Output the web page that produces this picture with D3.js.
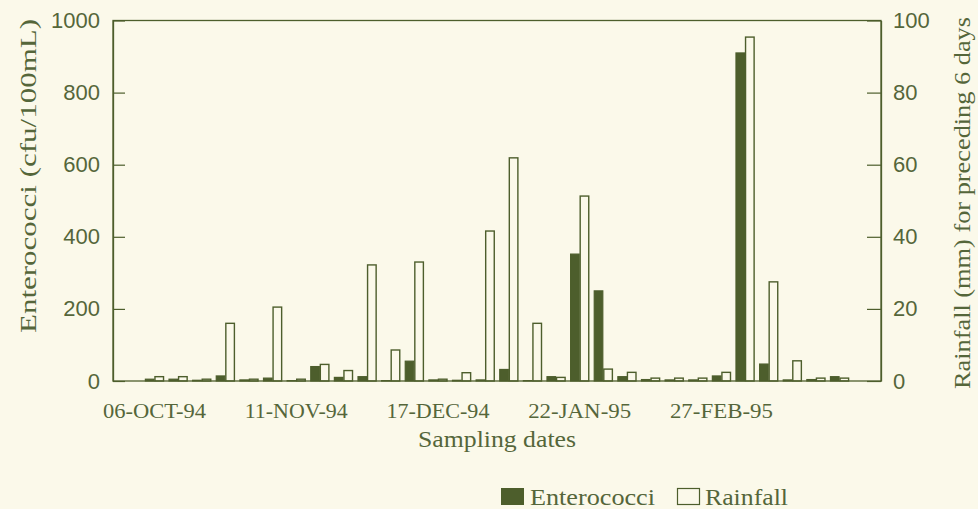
<!DOCTYPE html>
<html>
<head>
<meta charset="utf-8">
<title>Enterococci and rainfall</title>
<script src="https://d3js.org/d3.v7.min.js"></script>
<style>
  body { margin: 0; background: #fbf9ea; }
  svg { display: block; }
  .num { font-family: "Liberation Sans", Arial, sans-serif; font-size: 22px; fill: #55663a; }
  .ser { font-family: "Liberation Serif", "Times New Roman", serif; fill: #55663a; }
</style>
</head>
<body>
<svg id="chart" width="978" height="509"></svg>
<script>
// sampling dates, every 6 days
var dates = ["06-OCT-94","12-OCT-94","18-OCT-94","24-OCT-94","30-OCT-94","05-NOV-94",
  "11-NOV-94","17-NOV-94","23-NOV-94","29-NOV-94","05-DEC-94","11-DEC-94",
  "17-DEC-94","23-DEC-94","29-DEC-94","04-JAN-95","10-JAN-95","16-JAN-95",
  "22-JAN-95","28-JAN-95","03-FEB-95","09-FEB-95","15-FEB-95","21-FEB-95",
  "27-FEB-95","05-MAR-95","11-MAR-95","17-MAR-95","23-MAR-95","29-MAR-95"];
// cfu/100mL
var entero = [5,5,2,14,3,8, 1,40,10,12,1,55, 3,2,3,32,1,12,
  352,250,12,4,3,3, 14,910,47,3,4,12];
// mm for preceding 6 days
var rain = [1.2,1.2,0.5,16,0.5,20.5, 0.5,4.6,2.9,32.2,8.6,33, 0.5,2.3,41.6,61.9,16,1,
  51.3,3.3,2.4,0.8,0.8,0.8, 2.4,95.4,27.5,5.6,0.8,0.8];
var leftTicks = [0,200,400,600,800,1000];
var rightTicks = [0,20,40,60,80,100];
var labelDates = ["06-OCT-94","11-NOV-94","17-DEC-94","22-JAN-95","27-FEB-95"];

var ink = "#4d5e2c", bg = "#fbf9ea";
var svg = d3.select("#chart");
var pl = 113, pr = 881, pt = 20.5, pb = 381;

var x0 = d3.scaleBand().domain(dates).range([pl, pr])
    .paddingInner(0.19).paddingOuter(1.35);
var x1 = d3.scaleBand().domain(["e","r"]).range([0, x0.bandwidth()]);
var yL = d3.scaleLinear().domain([0, 1000]).range([pb, pt]);
var yR = d3.scaleLinear().domain([0, 100]).range([pb, pt]);

var rows = dates.map(function(d, i) { return {date: d, e: entero[i], r: rain[i]}; });

var g = svg.selectAll("g.grp").data(rows).enter().append("g")
    .attr("class", "grp")
    .attr("transform", function(d) { return "translate(" + x0(d.date) + ",0)"; });

g.append("rect")
    .attr("x", x1("e") + 0.5).attr("width", x1.bandwidth() - 1)
    .attr("y", function(d) { return yL(d.e); })
    .attr("height", function(d) { return pb - yL(d.e); })
    .attr("fill", ink).attr("stroke", ink).attr("stroke-width", 1.2);

g.append("rect")
    .attr("x", x1("r") + 0.5).attr("width", x1.bandwidth() - 1)
    .attr("y", function(d) { return yR(d.r); })
    .attr("height", function(d) { return pb - yR(d.r); })
    .attr("fill", bg).attr("stroke", ink).attr("stroke-width", 1.4);

// frame
svg.append("rect").attr("x", pl).attr("y", pt)
    .attr("width", pr - pl).attr("height", pb - pt)
    .attr("fill", "none").attr("stroke", ink).attr("stroke-width", 1.3);

var axL = svg.append("g").attr("transform", "translate(" + pl + ",0)")
    .call(d3.axisLeft(yL).tickValues(leftTicks).tickFormat(d3.format("d"))
      .tickSizeInner(-12).tickSizeOuter(0).tickPadding(13));
var axR = svg.append("g").attr("transform", "translate(" + pr + ",0)")
    .call(d3.axisRight(yR).tickValues(rightTicks).tickFormat(d3.format("d"))
      .tickSizeInner(-14).tickSizeOuter(0).tickPadding(12));
[axL, axR].forEach(function(a) {
  a.attr("font-family", null).attr("font-size", null);
  a.select(".domain").attr("stroke", ink).attr("stroke-width", 1.3);
  a.selectAll(".tick line").attr("stroke", ink).attr("stroke-width", 1.2);
  a.selectAll(".tick text").attr("class", "num").attr("fill", null);
});

function stretch(sel, len) {
  sel.attr("textLength", len).attr("lengthAdjust", "spacingAndGlyphs");
}

// x labels
svg.append("g").selectAll("text").data(labelDates).enter().append("text")
    .attr("class", "ser").attr("font-size", 20)
    .attr("text-anchor", "middle")
    .attr("x", function(d) { return x0(d) + x0.bandwidth() / 2; })
    .attr("y", 418)
    .text(function(d) { return d; })
    .call(stretch, 103);

svg.append("text").attr("class", "ser").attr("font-size", 24)
    .attr("text-anchor", "middle").attr("x", 497).attr("y", 447)
    .text("Sampling dates").call(stretch, 158);

svg.append("text").attr("class", "ser").attr("font-size", 24)
    .attr("text-anchor", "middle")
    .attr("transform", "translate(36,176) rotate(-90)")
    .text("Enterococci (cfu/100mL)").call(stretch, 314);

svg.append("text").attr("class", "ser").attr("font-size", 24)
    .attr("text-anchor", "middle")
    .attr("transform", "translate(970,203) rotate(-90)")
    .text("Rainfall (mm) for preceding 6 days").call(stretch, 372);

// legend
var leg = svg.append("g");
leg.append("rect").attr("x", 501).attr("y", 488).attr("width", 23).attr("height", 17)
    .attr("fill", ink);
leg.append("text").attr("class", "ser").attr("font-size", 24).attr("x", 530).attr("y", 505)
    .text("Enterococci").call(stretch, 125);
leg.append("rect").attr("x", 677.5).attr("y", 488.5).attr("width", 22).attr("height", 16)
    .attr("fill", bg).attr("stroke", ink).attr("stroke-width", 1.2);
leg.append("text").attr("class", "ser").attr("font-size", 24).attr("x", 705).attr("y", 505)
    .text("Rainfall").call(stretch, 83);
</script>
</body>
</html>
